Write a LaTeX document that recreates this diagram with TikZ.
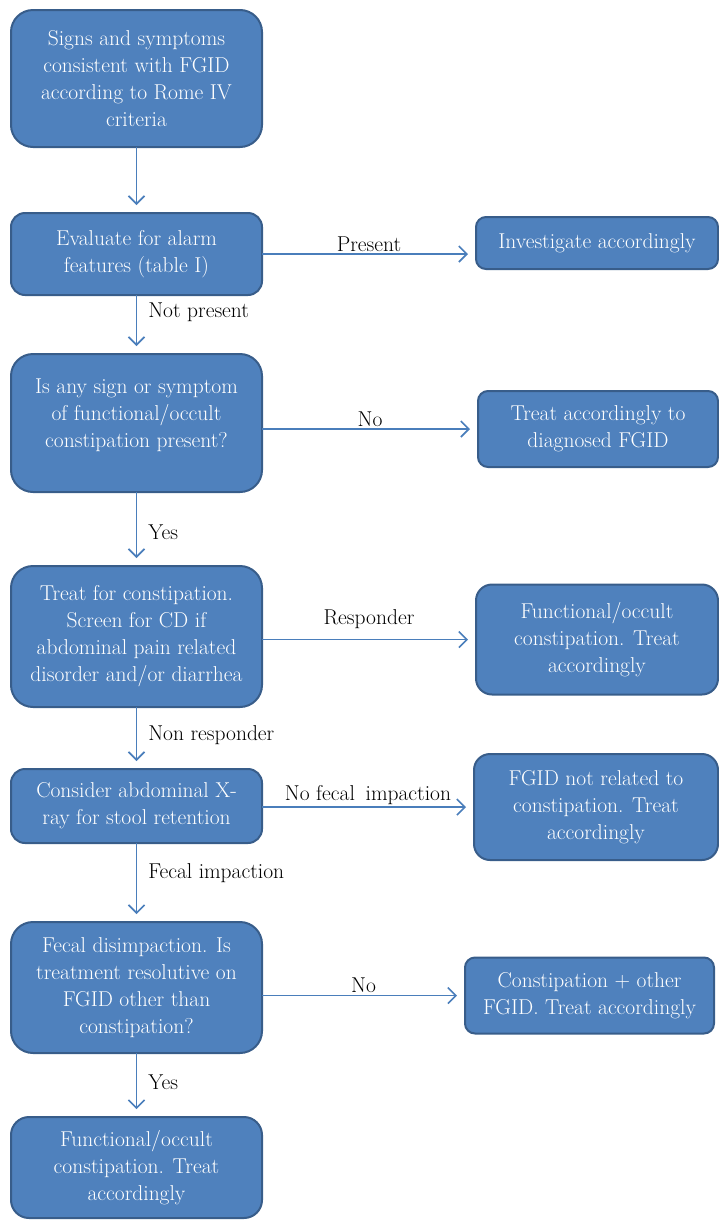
\documentclass[tikz,border=0pt]{standalone}
\usepackage{fontspec}
\usetikzlibrary{positioning, arrows.meta}
\definecolor{boxfill}{HTML}{4F81BD}
\definecolor{boxline}{HTML}{385D8A}
\definecolor{arrowcol}{HTML}{4A7EBB}

\begin{document}
\begin{tikzpicture}[
    x = 1pt, y = 1pt, > = {Straight Barb[length = 8pt, width = 16pt]},
    font = \fontsize{21.5}{27}\selectfont,
    process/.style = {rectangle, rounded corners = 14pt, draw = boxline, line width = 2pt, fill = boxfill, text = white, align = center, inner sep = 2pt, outer sep = 0pt, minimum width = 251pt},
    outcome/.style = {process, rounded corners = 10pt},
    flow/.style = {arrows = ->, draw = arrowcol, line width = 1.6pt, shorten > = 8pt},
    lbl/.style = {text = black, inner sep = 2pt},
    ]
    \useasboundingbox (0,0) rectangle (718,-1224);

    % draw main column
    \node [process, minimum height = 137pt, rounded corners = 22pt] (sign) at (136.5,-78.5) {Signs and symptoms\\ consistent with FGID\\ according to Rome IV\\ criteria};
    \node [process, minimum height = 82pt] (eval)  [below = 66pt of sign]  {Evaluate for alarm\\ features (table I)};
    \node [process, minimum height = 138pt, rounded corners = 22pt] (query) [below = 59pt of eval] {Is any sign or symptom\\ of functional/occult\\ constipation present?\\[-8pt]\mbox{}};
    \node [process, minimum height = 141pt, rounded corners = 22pt] (treat) [below = 74pt of query] {Treat for constipation.\\ Screen for CD if\\ abdominal pain related\\ disorder and/or diarrhea};
    \node [process, minimum height = 74pt] (xray)  [below = 62pt of treat] {Consider abdominal X-\\ ray for stool retention};
    \node [process, minimum height = 131pt, rounded corners = 22pt] (disimp) [below = 79pt of xray] {Fecal disimpaction. Is\\ treatment resolutive on\\ FGID other than\\ constipation?};
    \node [process, minimum height = 101pt, rounded corners = 18pt] (func) [below = 64pt of disimp] {Functional/occult\\ constipation. Treat\\ accordingly};

    % draw outcomes on the right
    \node [outcome, minimum width = 242pt, minimum height = 52pt] (invest) [right = 214pt of eval, yshift = 11pt] {Investigate accordingly};
    \node [outcome, minimum width = 240pt, minimum height = 76pt] (diag) [right = 216pt of query, yshift = -6pt] {Treat accordingly to\\ diagnosed FGID};
    \node [outcome, minimum width = 242pt, minimum height = 110pt, rounded corners = 16pt] (respond) [right = 214pt of treat, yshift = -3pt] {Functional/occult\\ constipation. Treat\\ accordingly};
    \node [outcome, minimum width = 244pt, minimum height = 106pt, rounded corners = 16pt] (unrel) [right = 212pt of xray, yshift = -1pt] {FGID not related to\\ constipation. Treat\\ accordingly};
    \node [outcome, minimum width = 249pt, minimum height = 76pt] (other) [right = 203pt of disimp, yshift = -8pt] {Constipation + other\\ FGID. Treat accordingly};

    % draw paths down
    \draw [flow] (sign) -- (eval);
    \draw [flow] (eval) -- node [lbl, right = 9pt, pos = 0.3] {Not present} (query);
    \draw [flow] (query) -- node [lbl, right = 9pt, pos = 0.55] {Yes} (treat);
    \draw [flow] (treat) -- node [lbl, right = 9pt, pos = 0.45] {Non responder} (xray);
    \draw [flow] (xray) -- node [lbl, right = 9pt, pos = 0.38] {Fecal impaction} (disimp);
    \draw [flow] (disimp) -- node [lbl, right = 9pt, pos = 0.45] {Yes} (func);

    % draw paths across
    \draw [flow] (eval.east) -- node [lbl, above] {Present} (eval.east -| invest.west);
    \draw [flow] (diag.west -| query.east) -- node [lbl, above] {No} (diag.west);
    \draw [flow] (respond.west -| treat.east) -- node [lbl, above = 8pt] {Responder} (respond.west);
    \draw [flow] (unrel.west -| xray.east) -- node [lbl, above] {No fecal\enspace impaction} (unrel.west);
    \draw [flow] (other.west -| disimp.east) -- node [lbl, above] {No} (other.west);
\end{tikzpicture}
\end{document}
